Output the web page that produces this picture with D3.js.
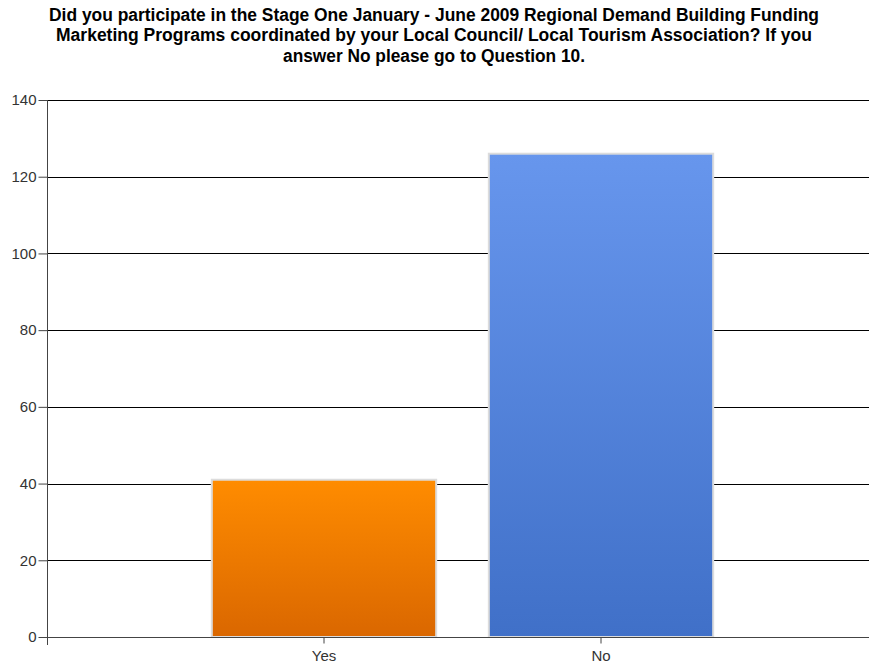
<!DOCTYPE html>
<html>
<head>
<meta charset="utf-8">
<script src="https://cdn.jsdelivr.net/npm/d3@7"></script>
<style>
  html,body{margin:0;padding:0;background:#fff;}
  svg text{font-family:"Liberation Sans",Arial,sans-serif;}
</style>
</head>
<body>
<div id="chart"></div>
<script>
// data
const categories = ['Yes', 'No'];
const counts = [41, 126];
const yTicks = [0, 20, 40, 60, 80, 100, 120, 140];
const titleLines = [
  'Did you participate in the Stage One January - June 2009 Regional Demand Building Funding',
  'Marketing Programs coordinated by your Local Council/ Local Tourism Association? If you',
  'answer No please go to Question 10.'
];

const W = 869, H = 665;
const m = {top: 100, right: 0, bottom: 28, left: 47};

const svg = d3.select('#chart').append('svg').attr('width', W).attr('height', H);

// gradients for the two bars
const defs = svg.append('defs');
const grads = [['gYes', '#ff8c00', '#da6700'], ['gNo', '#6796ed', '#4070c8']];
grads.forEach(([id, c0, c1]) => {
  const g = defs.append('linearGradient').attr('id', id).attr('x1', 0).attr('y1', 0).attr('x2', 0).attr('y2', 1);
  g.append('stop').attr('offset', '0%').attr('stop-color', c0);
  g.append('stop').attr('offset', '100%').attr('stop-color', c1);
});

// title
svg.append('g').selectAll('text').data(titleLines).join('text')
  .attr('x', 434).attr('y', (d, i) => 21 + i * 20.3)
  .attr('text-anchor', 'middle')
  .attr('font-size', 17.5).attr('font-weight', 'bold').attr('fill', '#000')
  .attr('textLength', (d, i) => [770, 756, 302][i]).attr('lengthAdjust', 'spacingAndGlyphs')
  .text(d => d);

const y = d3.scaleLinear().domain([0, 140]).range([H - m.bottom, m.top]);
const x = d3.scaleBand().domain(categories).range([m.left, 878])
  .paddingInner(0.19).paddingOuter(0.595);

// gridlines
svg.append('g').selectAll('line').data(yTicks.slice(1)).join('line')
  .attr('x1', m.left).attr('x2', W).attr('y1', d => Math.round(y(d)) + 0.5).attr('y2', d => Math.round(y(d)) + 0.5)
  .attr('stroke', '#000').attr('stroke-width', 1);

// bars
svg.append('g').selectAll('rect').data(counts).join('rect')
  .attr('x', (d, i) => x(categories[i]))
  .attr('y', d => y(d))
  .attr('width', x.bandwidth())
  .attr('height', d => y(0) - y(d))
  .attr('fill', (d, i) => i === 0 ? 'url(#gYes)' : 'url(#gNo)')
  .attr('stroke', '#dcdcdc').attr('stroke-width', 2);

// y axis
const yAxis = svg.append('g').attr('transform', `translate(${m.left + 0.5},0)`)
  .call(d3.axisLeft(y).tickValues(yTicks).tickSize(9).tickPadding(2).tickSizeOuter(0));
yAxis.select('.domain').attr('stroke', '#444').attr('d', `M0,${m.top}V${H - m.bottom + 8}`);
yAxis.selectAll('.tick line').attr('stroke', '#444');
yAxis.selectAll('.tick text').attr('font-size', 15).attr('fill', '#333')
  .attr('font-family', '"Liberation Sans",Arial,sans-serif');

// x axis
const xAxis = svg.append('g').attr('transform', `translate(0,${Math.round(y(0)) + 0.5})`)
  .call(d3.axisBottom(x).tickSize(6).tickPadding(7).tickSizeOuter(0));
xAxis.select('.domain').attr('stroke', '#444').attr('d', `M${m.left},0H${W}`);
xAxis.selectAll('.tick line').attr('stroke', '#444');
xAxis.selectAll('.tick text').attr('font-size', 15).attr('fill', '#333')
  .attr('font-family', '"Liberation Sans",Arial,sans-serif');
</script>
</body>
</html>
